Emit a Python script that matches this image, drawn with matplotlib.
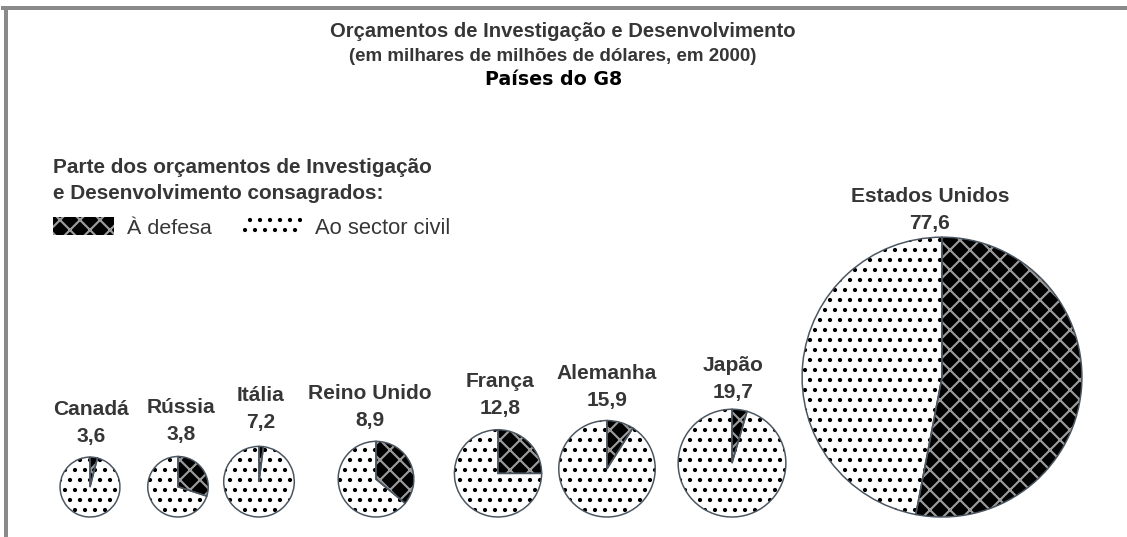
import matplotlib
matplotlib.use('Agg')
import matplotlib.pyplot as plt
from matplotlib.patches import Rectangle
from matplotlib.lines import Line2D

# data
countries = ['Canadá', 'Rússia', 'Itália', 'Reino Unido', 'França', 'Alemanha', 'Japão', 'Estados Unidos']
budgets = [3.6, 3.8, 7.2, 8.9, 12.8, 15.9, 19.7, 77.6]
defense_share = [4, 30, 2, 36, 25, 9, 4.5, 53]

# layout (pixels)
W, H = 1127, 537
DPI = 120
pie_x = [90, 178, 259, 376, 498, 607, 732, 942]
label_x = [91, 181, 261, 370, 500, 607, 733, 930]
label_gap = [15, 17, 18, 15, 16, 15, 11, 8]
base_y = 517
txt = '#363636'
sans = ['Liberation Sans', 'DejaVu Sans']

plt.rcParams['hatch.linewidth'] = 1.3


def pt(p):
    return p * 72 / DPI


fig = plt.figure(figsize=(W / DPI, H / DPI), dpi=DPI)
ax = fig.add_axes([0, 0, 1, 1])

for name, total, share, x, lx, gap in zip(countries, budgets, defense_share, pie_x, label_x, label_gap):
    r = 24.6 + 1.486 * total
    cy = H - (base_y - r)
    wedges, _ = ax.pie([share, 100 - share], center=(x, cy), radius=r,
                       startangle=90, counterclock=False,
                       colors=['black', 'white'], wedgeprops=dict(lw=0))
    wedges[0].set_edgecolor('#9a9a9a')
    wedges[0].set_hatch('xx')
    wedges[1].set_edgecolor('black')
    wedges[1].set_hatch('..')
    ax.pie([share, 100 - share], center=(x, cy), radius=r,
           startangle=90, counterclock=False,
           wedgeprops=dict(fill=False, edgecolor='#4a5560', lw=0.9))
    top = base_y - 2 * r
    ax.text(lx, H - (top - gap), f'{total:.1f}'.replace('.', ','), ha='center', va='baseline',
            family=sans, weight='bold', fontsize=pt(21), color=txt)
    ax.text(lx, H - (top - gap - 27), name, ha='center', va='baseline',
            family=sans, weight='bold', fontsize=pt(21), color=txt)

# titles
ax.text(563, H - 37, 'Orçamentos de Investigação e Desenvolvimento', ha='center', va='baseline',
        family=sans, weight='bold', fontsize=pt(20.3), color=txt)
ax.text(553, H - 61, '(em milhares de milhões de dólares, em 2000)', ha='center', va='baseline',
        family=sans, weight='bold', fontsize=pt(18.8), color=txt)
ax.text(554, H - 85, 'Países do G8', ha='center', va='baseline',
        family='DejaVu Sans', weight='bold', fontsize=pt(19), color='black')

# legend
ax.text(53, H - 173, 'Parte dos orçamentos de Investigação', ha='left', va='baseline',
        family=sans, weight='bold', fontsize=pt(20.8), color=txt)
ax.text(53, H - 199, 'e Desenvolvimento consagrados:', ha='left', va='baseline',
        family=sans, weight='bold', fontsize=pt(20.8), color=txt)
ax.add_patch(Rectangle((53, H - 235), 61, 18, facecolor='black', edgecolor='#9a9a9a', hatch='xx', lw=0))
ax.add_patch(Rectangle((243, H - 235), 59, 18, facecolor='white', edgecolor='black', hatch='..', lw=0))
ax.text(127, H - 234, 'À defesa', ha='left', va='baseline', family=sans, fontsize=pt(21.5), color=txt)
ax.text(315, H - 234, 'Ao sector civil', ha='left', va='baseline', family=sans, fontsize=pt(22), color=txt)

ax.set_xlim(0, W)
ax.set_ylim(0, H)
ax.set_aspect('auto')
ax.axis('off')

# grey frame on left and top
fig.add_artist(Line2D([5.5 / W, 5.5 / W], [0, 1 - 8 / H], color='#8a8a8a', lw=pt(4)))
fig.add_artist(Line2D([3.5 / W, 1], [1 - 8 / H, 1 - 8 / H], color='#8a8a8a', lw=pt(4)))

fig.savefig('out.png', dpi=DPI)
